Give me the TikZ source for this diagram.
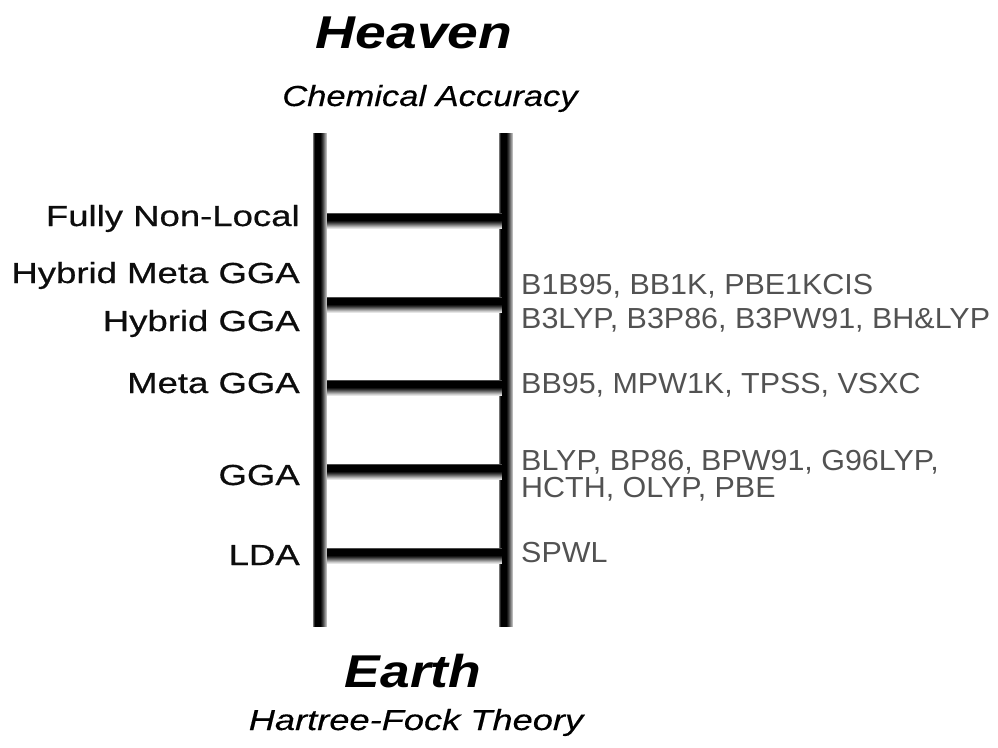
\documentclass[tikz,border=0pt]{standalone}
\usepackage{fontspec}
\setmainfont{Liberation Sans}
\newfontfamily\labelfont[FakeBold=0.5]{Liberation Sans}
\newfontfamily\subfont[FakeBold=0.3,ItalicFont={Liberation Sans Italic}]{Liberation Sans}
\begin{document}
\begin{tikzpicture}[x=1pt,y=-1pt,
  title/.style={anchor=base,inner sep=0pt,font=\fontsize{46}{50}\selectfont\bfseries\itshape},
  subtitle/.style={anchor=base,inner sep=0pt,font=\fontsize{29}{33}\selectfont\subfont\itshape},
  level/.style={anchor=base east,inner sep=0pt,xscale=1.26,text=black!95,font=\fontsize{29}{33}\selectfont\labelfont},
  example/.style={anchor=base west,inner sep=0pt,xscale=1.05,text=black!68,font=\fontsize{29}{33}\selectfont}]
\useasboundingbox (0,0) rectangle (998,747);

% the two side rails, built from 1pt columns: soft left edge, dark core, fading right edge
\foreach \x in {313,499}{
  \foreach \d [count=\i from 0] in {55,85,100,100,100,100,100,100,92,82,70,56,42,28}
    \fill[black!\d] (\x+\i,133) rectangle (\x+\i+1.05,627);
}

% the rungs, built from 1pt rows: dark upper band fading downwards
\foreach \y in {213,297,380,464,548}{
  \foreach \d [count=\j from 0] in {70,100,100,100,100,100,100,100,92,82,70,58,45,32,20,10}
    \fill[black!\d] (327,\y+\j) rectangle (502,\y+\j+1.05);
}

% top and bottom of the ladder
\node[title,xscale=1.2] (heaven) at (414,48) {Heaven};
\node[subtitle,xscale=1.19] (accuracy) at (430,106) {Chemical Accuracy};
\node[title,xscale=1.16] (earth) at (413,687) {Earth};
\node[subtitle,xscale=1.25] (hf) at (416,730) {Hartree-Fock Theory};

% functional families
\node[level] (fnl) at (300,226) {Fully Non-Local};
\node[level] (hmgga) at (300,283) {Hybrid Meta GGA};
\node[level] (hgga) at (300,331) {Hybrid GGA};
\node[level] (mgga) at (300,393) {Meta GGA};
\node[level] (gga) at (300,485) {GGA};
\node[level] (lda) at (300,565) {LDA};

% example functionals
\node[example] (ex-hmgga) at (521,294) {B1B95, BB1K, PBE1KCIS};
\node[example] (ex-hgga) at (521,328) {B3LYP, B3P86, B3PW91, BH\&LYP};
\node[example] (ex-mgga) at (521,393) {BB95, MPW1K, TPSS, VSXC};
\node[example] (ex-gga1) at (521,470) {BLYP, BP86, BPW91, G96LYP,};
\node[example] (ex-gga2) at (521,497) {HCTH, OLYP, PBE};
\node[example] (ex-lda) at (521,562) {SPWL};
\end{tikzpicture}
\end{document}
